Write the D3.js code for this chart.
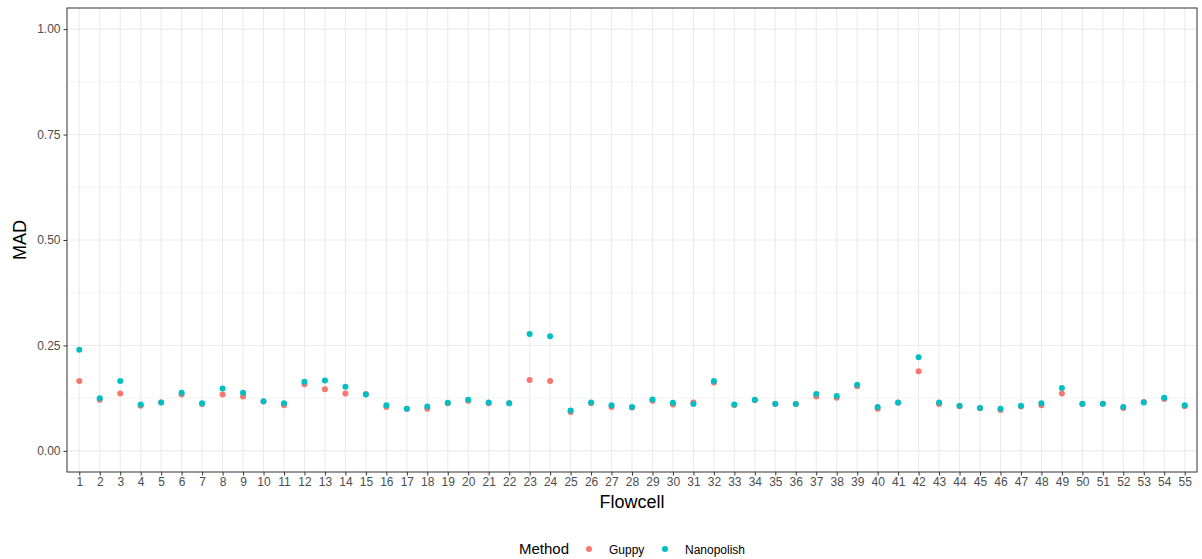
<!DOCTYPE html>
<html>
<head>
<meta charset="utf-8">
<script src="https://cdn.jsdelivr.net/npm/d3@7"></script>
<style>
  html, body { margin: 0; padding: 0; background: #ffffff; }
  svg { display: block; font-family: "Liberation Sans", Arial, sans-serif; }
</style>
</head>
<body>
<svg id="chart" width="1202" height="559"></svg>
<script>
// Flowcell identifiers (x categories)
const flowcells = d3.range(1, 56).map(String);

// Median absolute deviation per flowcell, by basecalling method
const guppy = [
  0.166, 0.121, 0.136, 0.107, 0.115, 0.134, 0.111, 0.134, 0.129, 0.117,
  0.108, 0.158, 0.146, 0.136, 0.135, 0.104, 0.100, 0.100, 0.113, 0.119,
  0.113, 0.113, 0.168, 0.166, 0.092, 0.113, 0.104, 0.103, 0.119, 0.110,
  0.115, 0.162, 0.109, 0.120, 0.111, 0.111, 0.129, 0.126, 0.153, 0.100,
  0.114, 0.189, 0.111, 0.106, 0.101, 0.097, 0.105, 0.108, 0.136, 0.111,
  0.112, 0.102, 0.116, 0.123, 0.106
];
const nanopolish = [
  0.240, 0.125, 0.166, 0.110, 0.115, 0.138, 0.113, 0.148, 0.138, 0.118,
  0.113, 0.164, 0.167, 0.152, 0.134, 0.108, 0.100, 0.105, 0.114, 0.121,
  0.115, 0.113, 0.277, 0.272, 0.096, 0.115, 0.108, 0.104, 0.122, 0.114,
  0.111, 0.166, 0.110, 0.121, 0.112, 0.111, 0.135, 0.130, 0.157, 0.104,
  0.115, 0.222, 0.115, 0.107, 0.102, 0.100, 0.107, 0.113, 0.149, 0.112,
  0.112, 0.104, 0.115, 0.126, 0.108
];

const methods = ["Guppy", "Nanopolish"];
const methodColors = ["#F8766D", "#00BFC4"];
const yTicks = [0, 0.25, 0.5, 0.75, 1.0];
const yMinorTicks = [0.125, 0.375, 0.625, 0.875];

const svg = d3.select("#chart");
const panel = { left: 67, top: 8, right: 1197, bottom: 472 };

const x = d3.scalePoint()
  .domain(flowcells)
  .range([panel.left, panel.right])
  .padding(0.6);

const y = d3.scaleLinear()
  .domain([-0.05, 1.05])
  .range([panel.bottom, panel.top]);

const color = d3.scaleOrdinal().domain(methods).range(methodColors);

// panel background
svg.append("rect")
  .attr("x", panel.left).attr("y", panel.top)
  .attr("width", panel.right - panel.left)
  .attr("height", panel.bottom - panel.top)
  .attr("fill", "#ffffff");

const grid = svg.append("g");
// minor horizontal grid
grid.selectAll("line.ymin").data(yMinorTicks).join("line")
  .attr("x1", panel.left).attr("x2", panel.right)
  .attr("y1", d => y(d)).attr("y2", d => y(d))
  .attr("stroke", "#EBEBEB").attr("stroke-width", 0.6);
// major horizontal grid
grid.selectAll("line.ymaj").data(yTicks).join("line")
  .attr("x1", panel.left).attr("x2", panel.right)
  .attr("y1", d => y(d)).attr("y2", d => y(d))
  .attr("stroke", "#EBEBEB").attr("stroke-width", 1.1);
// vertical grid at each flowcell
grid.selectAll("line.xmaj").data(flowcells).join("line")
  .attr("x1", d => x(d)).attr("x2", d => x(d))
  .attr("y1", panel.top).attr("y2", panel.bottom)
  .attr("stroke", "#EBEBEB").attr("stroke-width", 1.1);

// points: Guppy underneath, Nanopolish on top
const series = [
  { name: "Guppy", values: guppy },
  { name: "Nanopolish", values: nanopolish }
];
series.forEach(s => {
  svg.append("g").selectAll("circle")
    .data(s.values.map((v, i) => ({ fc: flowcells[i], v })))
    .join("circle")
    .attr("cx", d => x(d.fc))
    .attr("cy", d => y(d.v))
    .attr("r", 3)
    .attr("fill", color(s.name));
});

// panel border
svg.append("rect")
  .attr("x", panel.left).attr("y", panel.top)
  .attr("width", panel.right - panel.left)
  .attr("height", panel.bottom - panel.top)
  .attr("fill", "none")
  .attr("stroke", "#333333").attr("stroke-width", 1);

// axes
const xAxis = svg.append("g")
  .attr("transform", `translate(0,${panel.bottom})`)
  .call(d3.axisBottom(x).tickSize(3.5).tickPadding(2));
const yAxis = svg.append("g")
  .attr("transform", `translate(${panel.left},0)`)
  .call(d3.axisLeft(y).tickValues(yTicks).tickFormat(d3.format(".2f")).tickSize(3.5).tickPadding(3));

[xAxis, yAxis].forEach(a => {
  a.select(".domain").remove();
  a.selectAll(".tick line").attr("stroke", "#333333").attr("stroke-width", 1);
  a.selectAll(".tick text")
    .attr("fill", "#4D4D4D")
    .style("font-size", "12px")
    .style("font-family", "Liberation Sans, Arial, sans-serif");
});

// axis titles
svg.append("text")
  .attr("x", (panel.left + panel.right) / 2)
  .attr("y", 508)
  .attr("text-anchor", "middle")
  .style("font-size", "18px")
  .attr("fill", "#000000")
  .text("Flowcell");

svg.append("text")
  .attr("transform", `translate(26,${(panel.top + panel.bottom) / 2}) rotate(-90)`)
  .attr("text-anchor", "middle")
  .style("font-size", "18px")
  .attr("fill", "#000000")
  .text("MAD");

// legend
const legend = svg.append("g");
legend.append("text")
  .attr("x", 519).attr("y", 554)
  .style("font-size", "15px")
  .attr("fill", "#000000")
  .text("Method");
const legendItems = [
  { name: "Guppy", cx: 589, tx: 609 },
  { name: "Nanopolish", cx: 665, tx: 685 }
];
legendItems.forEach(it => {
  legend.append("circle")
    .attr("cx", it.cx).attr("cy", 549).attr("r", 3)
    .attr("fill", color(it.name));
  legend.append("text")
    .attr("x", it.tx).attr("y", 553.5)
    .style("font-size", "12px")
    .attr("fill", "#000000")
    .text(it.name);
});
</script>
</body>
</html>
